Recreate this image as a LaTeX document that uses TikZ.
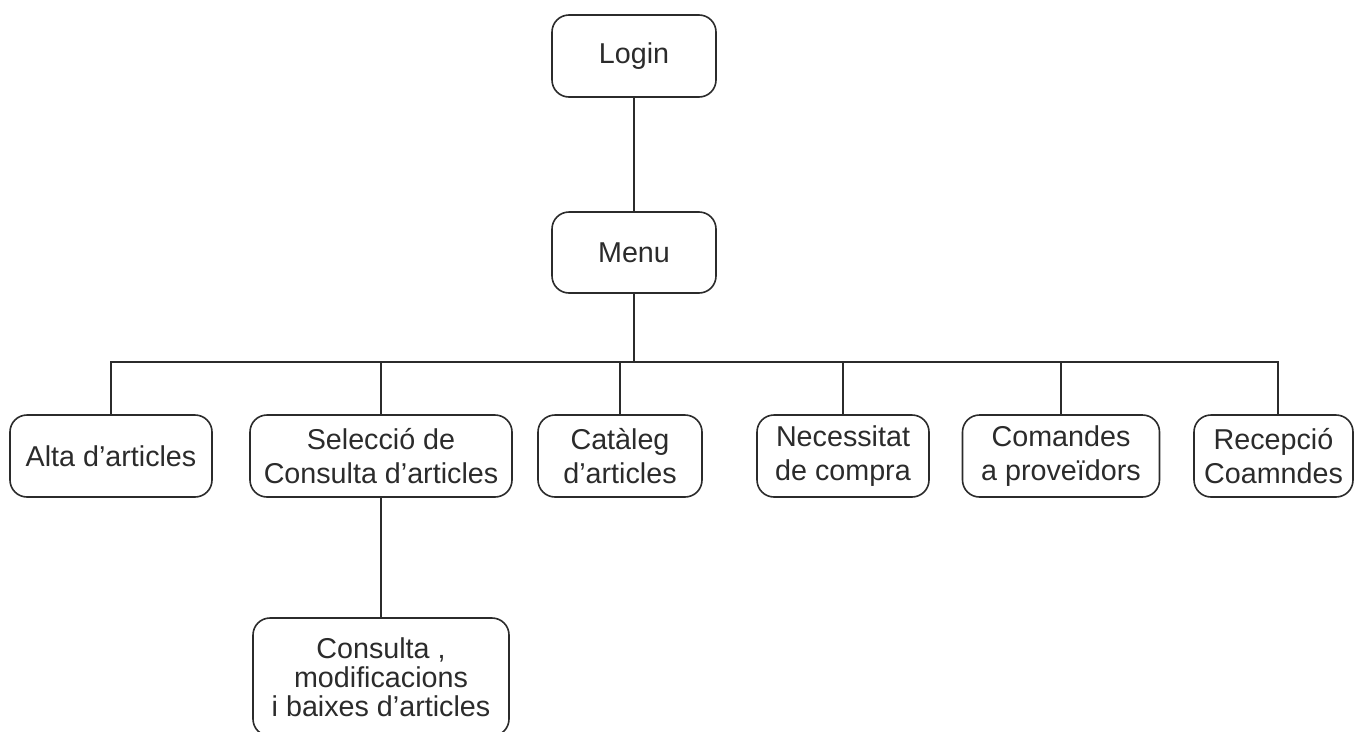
\documentclass[tikz,border=0pt]{standalone}
\usepackage{fontspec}
\setmainfont{Liberation Sans}
\definecolor{ink}{HTML}{2B2B2B}
\begin{document}
\begin{tikzpicture}[x=1pt,y=-1pt,
  every node/.style={font=\fontsize{28.7}{34}\selectfont, text=ink},
  box/.style={draw=ink, line width=1.6pt, rounded corners=17pt,
    align=center, inner sep=0pt},
  link/.style={draw=ink, line width=1.6pt}]
  \useasboundingbox (0,0) rectangle (1354,731);
  \clip (0,0) rectangle (1354,731);

  % top of the hierarchy
  \node[box, minimum width=164pt, minimum height=82pt] (login) at (634,56) {Login};
  \node[box, minimum width=164pt, minimum height=81pt] (menu) at (634,252.5) {Menu};

  % first-level options
  \node[box, minimum width=202pt, minimum height=82pt] (alta) at (111,456) {Alta d’articles};
  \node[box, minimum width=262pt, minimum height=82pt] (sel) at (381,456) {Selecció de\\Consulta d’articles};
  \node[box, minimum width=164pt, minimum height=82pt] (cat) at (620,456) {Catàleg\\d’articles};
  \node[box, minimum width=172pt, minimum height=82pt] (nec) at (843,456) {Necessitat\\de compra};
  \node[box, minimum width=197pt, minimum height=82pt] (com) at (1061,456) {Comandes\\a proveïdors};
  \node[box, minimum width=159pt, minimum height=82pt] (rec) at (1273.5,456) {Recepció\\Coamndes};

  % second level
  \node[box, minimum width=256pt, minimum height=118pt,
        font=\fontsize{28.7}{29}\selectfont] (mod) at (381,677) {Consulta ,\\modificacions\\ i baixes d’articles};

  % bus line joining the first-level options
  \coordinate (bus) at (0,362);
  \coordinate (recTop) at ([xshift=4.5pt]rec.north);

  \draw[link] (login) -- (menu);
  \draw[link] (menu.south) -- (menu.south |- bus);
  \draw[link] (alta.north) -- (alta.north |- bus) -- (recTop |- bus) -- (recTop);
  \draw[link] (sel.north) -- (sel.north |- bus);
  \draw[link] (cat.north) -- (cat.north |- bus);
  \draw[link] (nec.north) -- (nec.north |- bus);
  \draw[link] (com.north) -- (com.north |- bus);
  \draw[link] (sel) -- (mod);
\end{tikzpicture}
\end{document}
